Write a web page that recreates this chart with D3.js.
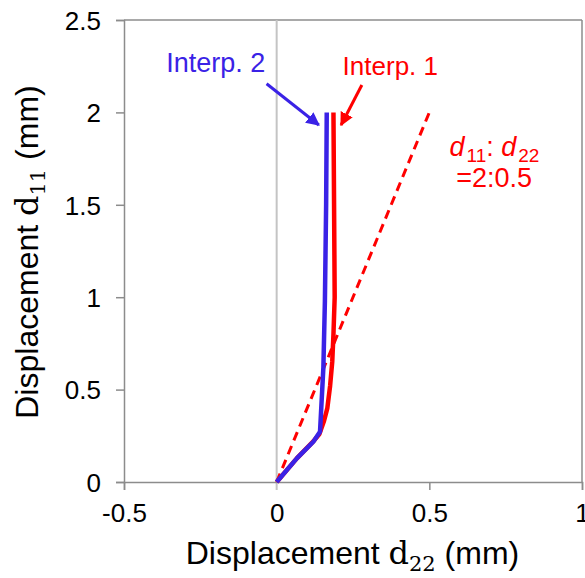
<!DOCTYPE html>
<html>
<head>
<meta charset="utf-8">
<script src="https://cdn.jsdelivr.net/npm/d3@7"></script>
<style>
  html, body { margin: 0; padding: 0; background: #fff; }
  svg { display: block; }
  text { font-family: "Liberation Sans", Arial, sans-serif; }
</style>
</head>
<body>
<svg id="chart" width="585" height="578"></svg>
<script>
// ---- Data ----
const xTicks = [-0.5, 0, 0.5, 1];
const yTicks = [0, 0.5, 1, 1.5, 2, 2.5];
const xTickLabels = ["-0.5", "0", "0.5", "1"];
const yTickLabels = ["0", "0.5", "1", "1.5", "2", "2.5"];

// Interp. 1 (red)
const interp1D22 = [0, 0.066, 0.12, 0.14, 0.155, 0.166, 0.175, 0.182, 0.186, 0.19, 0.188, 0.186];
const interp1D11 = [0, 0.128, 0.22, 0.26, 0.33, 0.40, 0.52, 0.65, 0.80, 1.0, 1.5, 2.0];
// Interp. 2 (blue)
const interp2D22 = [0, 0.066, 0.12, 0.142, 0.153, 0.158, 0.162, 0.164];
const interp2D11 = [0, 0.128, 0.218, 0.272, 0.62, 0.98, 1.5, 2.0];
// reference ratio line d11:d22 = 2:0.5
const ratioD22 = [0, 0.5];
const ratioD11 = [0, 2.0];

// annotation anchors (data units)
const arrow2 = { from: [-0.033, 2.155], to: [0.138, 1.932] };
const arrow1 = { from: [0.279, 2.148], to: [0.211, 1.932] };
const label2 = { text: "Interp. 2", at: [-0.362, 2.22] };
const label1 = { text: "Interp. 1", at: [0.216, 2.20] };
const ratioLabelAt = [0.566, 1.765];
const ratioValueAt = [0.588, 1.595];

// ---- Layout ----
const svg = d3.select("#chart");
const mL = 124, mR = 582, mT = 20, mB = 482;
const x = d3.scaleLinear().domain([-0.5, 1]).range([mL, mR]);
const y = d3.scaleLinear().domain([0, 2.5]).range([mB, mT]);

const RED = "#ff0000";
const BLUE = "#3a22e6";
const AXIS = "#8c8c8c";

// frame: top & right
svg.append("line").attr("x1", mL).attr("x2", mR).attr("y1", mT).attr("y2", mT)
  .attr("stroke", AXIS).attr("stroke-width", 1.5);
svg.append("line").attr("x1", mR).attr("x2", mR).attr("y1", mT).attr("y2", mB)
  .attr("stroke", AXIS).attr("stroke-width", 1.5);

// zero line (x = 0)
svg.append("line").attr("x1", x(0)).attr("x2", x(0)).attr("y1", mT).attr("y2", mB + 8)
  .attr("stroke", "#c4c4c4").attr("stroke-width", 2);

// Y axis
const yAxis = d3.axisLeft(y).tickValues(yTicks).tickSize(8).tickPadding(15)
  .tickFormat((d, i) => yTickLabels[i]);
const gy = svg.append("g").attr("transform", `translate(${mL},0)`).call(yAxis);
gy.select(".domain").attr("stroke", AXIS).attr("stroke-width", 1.5);
gy.selectAll(".tick line").attr("stroke", AXIS).attr("stroke-width", 1.5);
gy.selectAll(".tick text").attr("font-size", 26).attr("fill", "#000")
  .attr("font-family", "Liberation Sans, Arial, sans-serif").attr("dy", "0.36em");

// X axis
const xAxis = d3.axisBottom(x).tickValues(xTicks).tickSize(8).tickPadding(14)
  .tickFormat((d, i) => xTickLabels[i]);
const gx = svg.append("g").attr("transform", `translate(0,${mB})`).call(xAxis);
gx.select(".domain").attr("stroke", AXIS).attr("stroke-width", 1.5);
gx.selectAll(".tick line").attr("stroke", AXIS).attr("stroke-width", 1.5);
gx.selectAll(".tick").filter(d => d === 0).select("line").attr("stroke", "none");
gx.selectAll(".tick text").attr("font-size", 26).attr("fill", "#000")
  .attr("font-family", "Liberation Sans, Arial, sans-serif");

// Axis titles
const xt = svg.append("text").attr("x", (185 + 520) / 2).attr("y", 564)
  .attr("text-anchor", "middle").attr("font-size", 32).attr("fill", "#000");
xt.append("tspan").text("Displacement ");
xt.append("tspan").text("d").attr("font-family", "DejaVu Serif, serif");
xt.append("tspan").text("22").attr("font-size", 21).attr("dy", 7).attr("font-family", "DejaVu Serif, serif");
xt.append("tspan").text(" (mm)").attr("dy", -7);

const yt = svg.append("text").attr("transform", `translate(38,252) rotate(-90)`)
  .attr("text-anchor", "middle").attr("font-size", 32).attr("fill", "#000");
yt.append("tspan").text("Displacement ");
yt.append("tspan").text("d").attr("font-family", "DejaVu Serif, serif");
yt.append("tspan").text("11").attr("font-size", 21).attr("dy", 7).attr("font-family", "DejaVu Serif, serif");
yt.append("tspan").text(" (mm)").attr("dy", -7);

// ---- Series ----
const line = d3.line().x(d => x(d[0])).y(d => y(d[1]));

svg.append("path").datum(d3.zip(ratioD22, ratioD11)).attr("d", line)
  .attr("fill", "none").attr("stroke", RED).attr("stroke-width", 3)
  .attr("stroke-dasharray", "9,6");

svg.append("path").datum(d3.zip(interp1D22, interp1D11)).attr("d", line)
  .attr("fill", "none").attr("stroke", RED).attr("stroke-width", 4.5)
  .attr("stroke-linejoin", "round");

svg.append("path").datum(d3.zip(interp2D22, interp2D11)).attr("d", line)
  .attr("fill", "none").attr("stroke", BLUE).attr("stroke-width", 4.5)
  .attr("stroke-linejoin", "round");

// ---- Annotations ----
const defs = svg.append("defs");
function marker(id, color) {
  defs.append("marker").attr("id", id).attr("viewBox", "0 0 10 10")
    .attr("refX", 9).attr("refY", 5).attr("markerWidth", 4.5).attr("markerHeight", 4.5)
    .attr("markerUnits", "strokeWidth").attr("orient", "auto")
    .append("path").attr("d", "M0,0 L10,5 L0,10 Z").attr("fill", color);
}
marker("ahBlue", BLUE);
marker("ahRed", RED);

function arrow(a, color, id) {
  svg.append("line")
    .attr("x1", x(a.from[0])).attr("y1", y(a.from[1]))
    .attr("x2", x(a.to[0])).attr("y2", y(a.to[1]))
    .attr("stroke", color).attr("stroke-width", 3)
    .attr("marker-end", `url(#${id})`);
}
arrow(arrow2, BLUE, "ahBlue");
arrow(arrow1, RED, "ahRed");

svg.append("text").attr("x", x(label2.at[0])).attr("y", y(label2.at[1]))
  .attr("font-size", 27).attr("fill", BLUE).text(label2.text);
svg.append("text").attr("x", x(label1.at[0])).attr("y", y(label1.at[1]))
  .attr("font-size", 26).attr("fill", RED).text(label1.text);

const rt = svg.append("text").attr("x", x(ratioLabelAt[0])).attr("y", y(ratioLabelAt[1]))
  .attr("fill", RED).attr("font-family", "DejaVu Serif, serif").attr("font-style", "italic")
  .attr("font-size", 27);
rt.append("tspan").text("d");
rt.append("tspan").text("11").attr("font-size", 19).attr("dx", 2).attr("dy", 6).attr("font-style", "normal");
rt.append("tspan").text(": ").attr("dy", -6).attr("font-style", "normal");
rt.append("tspan").text("d");
rt.append("tspan").text("22").attr("font-size", 19).attr("dx", 2).attr("dy", 6).attr("font-style", "normal");

svg.append("text").attr("x", x(ratioValueAt[0])).attr("y", y(ratioValueAt[1]))
  .attr("fill", RED).attr("font-size", 27).text("=2:0.5");
</script>
</body>
</html>
